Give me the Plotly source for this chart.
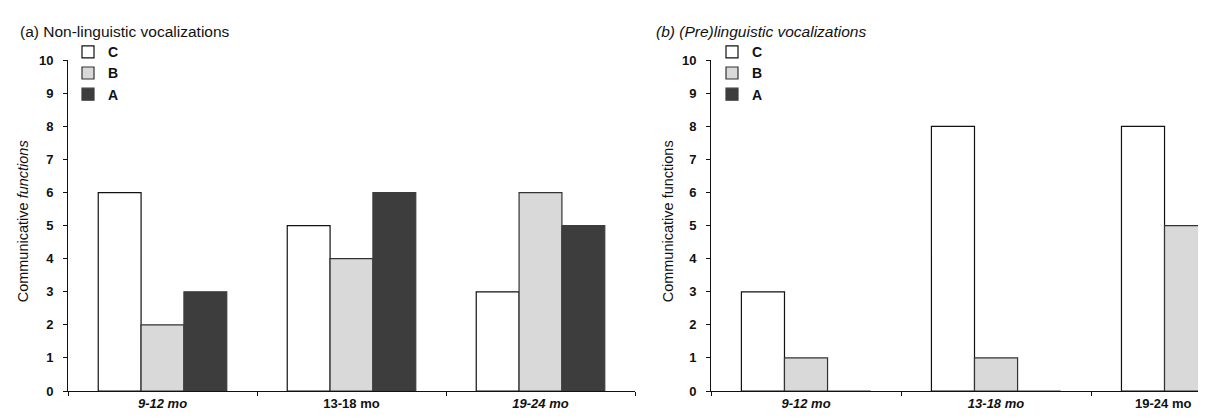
import plotly.graph_objects as go

categories = ["9-12 mo", "13-18 mo", "19-24 mo"]
left_ticktext = ["<i>9-12 mo</i>", "13-18 mo", "<i>19-24 mo</i>"]
right_ticktext = ["<i>9-12 mo</i>", "<i>13-18 mo</i>", "19-24 mo"]

# (a) Non-linguistic vocalizations
nonling_C = [6, 5, 3]
nonling_B = [2, 4, 6]
nonling_A = [3, 6, 5]

# (b) (Pre)linguistic vocalizations
preling_C = [3, 8, 8]
preling_B = [1, 1, 5]
preling_A = [0, 0, 0]

series_names = ["C", "B", "A"]
fills = {"C": "#ffffff", "B": "#d9d9d9", "A": "#3d3d3d"}
lines = {"C": "#111111", "B": "#333333", "A": "#3d3d3d"}

FONT = "Liberation Sans, Arial, sans-serif"
W, H = 1206, 418

fig = go.Figure()

for name, vals in zip(series_names, [nonling_C, nonling_B, nonling_A]):
    fig.add_trace(go.Bar(x=[0, 1, 2], y=vals, name=name, xaxis="x", yaxis="y",
                         marker=dict(color=fills[name], line=dict(color=lines[name], width=1.2)),
                         legend="legend"))
for name, vals in zip(series_names, [preling_C, preling_B, preling_A]):
    fig.add_trace(go.Bar(x=[0, 1, 2], y=vals, name=name, xaxis="x2", yaxis="y2",
                         marker=dict(color=fills[name], line=dict(color=lines[name], width=1.2)),
                         legend="legend2"))

def px_x(p):
    return p / W

def px_y(p):
    return 1 - p / H

y_dom = [px_y(390), px_y(47)]

tickfont = dict(family=FONT, size=13, color="#111", weight="bold")
axis_common = dict(showline=True, linecolor="#111", linewidth=1, showgrid=False,
                   zeroline=False, tickcolor="#111", tickfont=tickfont)
minor_ticks = dict(tickvals=[-0.5, 0.5, 1.5, 2.5], ticks="outside", ticklen=4, tickcolor="#111")

legend_common = dict(xanchor="left", yanchor="top", bgcolor="rgba(0,0,0,0)",
                     font=dict(family=FONT, size=14, color="#111", weight="bold"),
                     traceorder="normal", itemwidth=30)

fig.update_layout(
    width=W, height=H,
    margin=dict(l=0, r=0, t=0, b=0),
    paper_bgcolor="white", plot_bgcolor="white",
    barmode="group", bargap=0.32, bargroupgap=0,
    showlegend=True,
    font=dict(family=FONT, color="#111"),
    xaxis=dict(domain=[px_x(60), px_x(627)], range=[-0.5, 2.5],
               tickmode="array", tickvals=[0, 1, 2], ticktext=left_ticktext,
               ticks="", minor=minor_ticks, anchor="y", **axis_common),
    yaxis=dict(domain=y_dom, range=[0, 10], dtick=1, anchor="x", ticks="outside", ticklen=4,
               ticklabelstandoff=7, **axis_common),
    xaxis2=dict(domain=[px_x(703), 1.0], range=[-0.5, 2.147],
                tickmode="array", tickvals=[0, 1, 1.88], ticktext=right_ticktext,
                ticks="", minor=minor_ticks, anchor="y2", **axis_common),
    yaxis2=dict(domain=y_dom, range=[0, 10], dtick=1, anchor="x2", ticks="outside", ticklen=4,
                ticklabelstandoff=7, **axis_common),
    legend=dict(x=px_x(60), y=px_y(22), **legend_common),
    legend2=dict(x=px_x(704), y=px_y(22), **legend_common),
)

annotations = [
    dict(text="(a) Non-linguistic vocalizations", x=px_x(10), y=px_y(17), xref="paper", yref="paper",
         xanchor="left", yanchor="middle", showarrow=False, font=dict(family=FONT, size=15.5, color="#111")),
    dict(text="<i>(b) (Pre)linguistic vocalizations</i>", x=px_x(646), y=px_y(17), xref="paper", yref="paper",
         xanchor="left", yanchor="middle", showarrow=False, font=dict(family=FONT, size=15.5, color="#111")),
    dict(text="Communicative <i>functions</i>", x=px_x(5), y=px_y(214), xref="paper", yref="paper",
         textangle=-90, xanchor="left", yanchor="middle", showarrow=False,
         font=dict(family=FONT, size=14.5, color="#111")),
    dict(text="Communicative functions", x=px_x(650), y=px_y(214), xref="paper", yref="paper",
         textangle=-90, xanchor="left", yanchor="middle", showarrow=False,
         font=dict(family=FONT, size=14.5, color="#111")),
]
fig.update_layout(annotations=annotations)

fig.write_html("out.html")
